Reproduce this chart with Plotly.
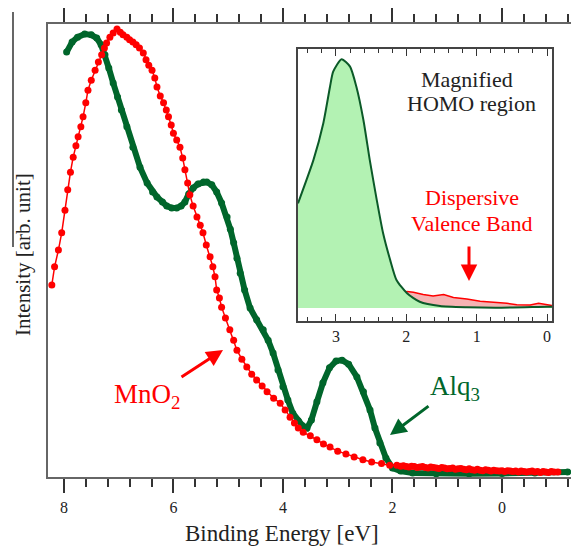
import plotly.graph_objects as go

# ---------------- data ----------------
alq3_E = [7.95, 7.85, 7.75, 7.62, 7.50, 7.40, 7.32, 7.25, 7.18, 7.10, 7.02, 6.95, 6.85, 6.74,
          6.61, 6.48, 6.38, 6.30, 6.20, 6.12, 6.03, 5.94, 5.86, 5.79, 5.72, 5.64, 5.55, 5.45,
          5.39, 5.30, 5.21, 5.12, 5.02, 4.96, 4.90, 4.84, 4.78, 4.70, 4.60, 4.48, 4.36, 4.27,
          4.18, 4.09, 4.00, 3.91, 3.82, 3.72, 3.64, 3.56, 3.48, 3.38, 3.27, 3.15, 3.03, 2.92,
          2.80, 2.65, 2.53, 2.41, 2.32, 2.23, 2.12, 2.00, 1.85, 1.63, 1.20, 0.60, 0.00, -0.60,
          -1.20]
alq3_I = [93.8, 96.0, 97.1, 97.8, 97.6, 96.9, 95.4, 93.2, 90.3, 87.0, 83.9, 81.0, 77.3, 72.8,
          68.4, 64.9, 62.9, 61.8, 60.7, 59.8, 59.4, 59.4, 59.8, 60.7, 62.5, 63.8, 64.7, 65.1,
          65.1, 64.5, 62.9, 60.5, 57.4, 54.7, 51.7, 48.3, 45.0, 41.3, 37.3, 34.7, 32.5, 30.2,
          27.4, 23.6, 19.9, 17.0, 14.1, 12.4, 11.3, 10.8, 12.6, 16.6, 20.8, 24.1, 25.6, 25.8,
          24.9, 22.1, 18.8, 14.8, 10.8, 7.5, 4.2, 2.0, 1.3, 0.9, 0.7, 0.7, 0.8, 0.9,
          1.1]

mno2_E = [8.22, 8.17, 8.10, 8.04, 7.98, 7.93, 7.88, 7.83, 7.78, 7.74, 7.69, 7.65, 7.60, 7.56,
          7.50, 7.43, 7.37, 7.31, 7.26, 7.22, 7.16, 7.10, 7.03, 6.97, 6.92, 6.85, 6.80, 6.74,
          6.68, 6.62, 6.55, 6.50, 6.45, 6.39, 6.34, 6.30, 6.24, 6.18, 6.13, 6.09, 6.04, 6.00,
          5.94, 5.88, 5.83, 5.79, 5.74, 5.70, 5.64, 5.57, 5.51, 5.46, 5.40, 5.33, 5.28, 5.24,
          5.21, 5.16, 5.12, 5.05, 4.97, 4.90, 4.84, 4.75, 4.66, 4.57, 4.48, 4.38, 4.29, 4.17,
          4.05, 3.96, 3.87, 3.79, 3.72, 3.63, 3.50, 3.38, 3.26, 3.14, 3.00, 2.85, 2.70, 2.54,
          2.38, 2.20, 2.05, 1.92, 1.85, 1.80, 1.75, 1.70, 1.65, 1.60, 1.55, 1.50, 1.45, 1.40,
          1.35, 1.30, 1.25, 1.20, 1.15, 1.10, 1.05, 1.00, 0.95, 0.90, 0.85, 0.80, 0.75, 0.70,
          0.65, 0.60, 0.55, 0.50, 0.45, 0.40, 0.35, 0.30, 0.25, 0.20, 0.15, 0.10, 0.05, 0.00,
          -0.05, -0.10, -0.15, -0.20, -0.25, -0.30, -0.35, -0.40, -0.45, -0.50, -0.55, -0.60,
          -0.65, -0.70, -0.75, -0.80, -0.85, -0.90, -0.95, -1.02]
mno2_I = [42.4, 46.4, 50.1, 53.9, 58.9, 63.4, 67.3, 70.6, 73.1, 75.1, 77.3, 79.5, 82.6, 85.4,
          87.6, 89.8, 91.6, 93.2, 94.7, 95.8, 97.1, 98.0, 98.9, 98.2, 97.6, 97.1, 96.5, 96.0,
          95.4, 94.7, 93.6, 92.1, 90.9, 89.8, 88.1, 86.1, 84.1, 82.6, 81.0, 79.5, 77.7, 75.9,
          74.4, 72.8, 70.4, 67.8, 64.9, 62.3, 59.8, 57.4, 55.6, 53.9, 51.2, 48.6, 46.4, 44.2,
          41.3, 39.5, 37.5, 35.1, 32.5, 30.2, 28.0, 26.0, 24.3, 22.7, 21.4, 20.1, 18.8, 17.4,
          16.3, 14.8, 13.2, 11.9, 10.8, 9.9, 9.1, 8.2, 7.3, 6.6, 5.7, 5.1, 4.4, 3.8,
          3.3, 3.0, 2.6, 2.6, 2.4, 2.5, 2.3, 2.2, 2.4, 2.3, 2.1, 2.2, 2.3, 2.1,
          2.0, 2.2, 2.1, 2.0, 1.9, 2.1, 2.0, 1.8, 1.9, 2.0, 1.7, 1.8, 1.9, 1.7,
          1.6, 1.8, 1.6, 1.5, 1.7, 1.5, 1.4, 1.6, 1.5, 1.3, 1.5, 1.4, 1.3, 1.4,
          1.2, 1.4, 1.3, 1.2, 1.3, 1.1, 1.3, 1.2, 1.1, 1.2, 1.3, 1.1,
          1.2, 1.0, 1.2, 1.1, 1.0, 1.2, 1.1, 1.1]

# inset (magnified HOMO region)
homo_E = [3.54, 3.32, 3.18, 3.085, 3.04, 2.92, 2.80, 2.71, 2.61, 2.52, 2.42, 2.33, 2.23, 2.14,
          1.99, 1.81, 1.52, 1.14, 0.72, 0.00, -0.07]
homo_I = [42.2, 59.7, 74.5, 89.2, 95.3, 100.3, 97.3, 89.2, 75.8, 59.7, 43.5, 30.1, 19.4, 11.3,
          5.9, 2.5, 0.8, 0.3, 0.1, 0.5, 0.5]

vb_E = [3.54, 3.30, 3.00, 2.70, 2.40, 2.10, 1.99, 1.90, 1.76, 1.62, 1.47, 1.33, 1.14, 0.95,
        0.76, 0.57, 0.43, 0.24, 0.12, 0.00, -0.07]
vb_I = [31.5, 25.0, 19.0, 14.0, 10.0, 7.2, 6.6, 6.3, 5.4, 4.8, 5.4, 4.2, 3.6, 2.7,
        2.3, 1.9, 1.3, 1.2, 1.9, 1.2, 1.0]

main_ticks = [8, 6, 4, 2, 0]
inset_ticks = [3, 2, 1, 0]

RED = "#ff0000"
GREEN = "#00662b"
FONT = "Times New Roman, Times, Liberation Serif, DejaVu Serif, serif"

fig = go.Figure()

fig.add_trace(go.Scatter(x=alq3_E, y=alq3_I, mode="lines+markers",
                         line=dict(color=GREEN, width=6),
                         marker=dict(color=GREEN, size=7), showlegend=False))
fig.add_trace(go.Scatter(x=mno2_E, y=mno2_I, mode="lines+markers",
                         line=dict(color=RED, width=1.5),
                         marker=dict(color=RED, size=7), showlegend=False))

# inset
fig.add_trace(go.Scatter(x=vb_E, y=vb_I, xaxis="x2", yaxis="y2", mode="lines",
                         line=dict(color=RED, width=1.5), fill="tozeroy",
                         fillcolor="#f5b3b3", showlegend=False))
fig.add_trace(go.Scatter(x=homo_E, y=homo_I, xaxis="x2", yaxis="y2", mode="lines",
                         line=dict(color="#0b5a28", width=2, shape="spline", smoothing=0.6),
                         fill="tozeroy", fillcolor="#b3f2b3", showlegend=False))

axis_line = "#666666"
fig.update_layout(
    width=571, height=547,
    margin=dict(l=48, r=0, t=24, b=70),
    paper_bgcolor="white", plot_bgcolor="white",
    font=dict(family=FONT, color="#222222"),
    xaxis=dict(range=[8.29, -1.26], tickvals=main_ticks, ticktext=[str(t) for t in main_ticks],
               ticks="outside", ticklen=14, tickwidth=1.5, tickcolor="#333333",
               showline=True, linecolor=axis_line, linewidth=1.5, mirror="ticks",
               showgrid=False, zeroline=False, tickfont=dict(size=16, family=FONT),
               ticklabelstandoff=1,
               minor=dict(dtick=0.4, tick0=0, ticks="outside", ticklen=8, tickwidth=1.5,
                          tickcolor="#333333", showgrid=False)),
    yaxis=dict(range=[0, 100], showline=True, linecolor=axis_line, linewidth=1.5,
               ticks="", showticklabels=False, showgrid=False, zeroline=False),
    xaxis2=dict(domain=[0.478, 0.9637], anchor="y2", range=[3.54, -0.071],
                tickvals=inset_ticks, ticktext=[str(t) for t in inset_ticks],
                ticks="inside", ticklen=7, tickwidth=1.2, tickcolor="#333333",
                showline=True, linecolor="#444444", linewidth=1.5, mirror="ticks",
                showgrid=False, zeroline=False, tickfont=dict(size=16, family=FONT),
                minor=dict(dtick=0.2, tick0=0, ticks="inside", ticklen=4, tickwidth=1.2,
                           tickcolor="#333333", showgrid=False)),
    yaxis2=dict(domain=[0.3444, 0.9448], anchor="x2", range=[-5.24, 104.4],
                showline=True, linecolor="#444444", linewidth=1.5, mirror=True,
                ticks="", showticklabels=False, showgrid=False, zeroline=False),
)

def ann(text, x, y, size, color="#222222", **kw):
    fig.add_annotation(text=text, x=x, y=y, xref="paper", yref="paper", showarrow=False,
                       font=dict(family=FONT, size=size, color=color), **kw)

def px_x(p):
    return (p - 48) / 523.0

def px_y(p):
    return (477 - p) / 453.0

ann("Binding Energy [eV]", px_x(281.5), px_y(533), 23, xanchor="center", yanchor="middle")
ann("Intensity [arb. unit]", px_x(23), px_y(255), 21, xanchor="center", yanchor="middle",
    textangle=-90)
ann("Magnified", px_x(467), px_y(80), 22, xanchor="center", yanchor="middle")
ann("HOMO region", px_x(471), px_y(103), 22, xanchor="center", yanchor="middle")
ann("Dispersive", px_x(472), px_y(198), 22, color=RED, xanchor="center", yanchor="middle")
ann("Valence Band", px_x(472), px_y(223), 22, color=RED, xanchor="center", yanchor="middle")
ann("MnO<sub>2</sub>", px_x(112), px_y(396), 27, color=RED, xanchor="left", yanchor="middle")
ann("Alq<sub>3</sub>", px_x(428), px_y(388), 27, color=GREEN, xanchor="left", yanchor="middle")

# arrows (tip position in paper coords, tail offset in pixels)
def arrow(tipx, tipy, tailx, taily, color):
    fig.add_annotation(x=px_x(tipx), y=px_y(tipy), xref="paper", yref="paper", text="",
                       showarrow=True, ax=tailx - tipx, ay=taily - tipy,
                       arrowhead=2, arrowsize=1.1, arrowwidth=3, arrowcolor=color)

arrow(223, 350, 180, 378, RED)
arrow(390, 435, 430, 405, GREEN)
arrow(469, 281, 469, 245, RED)

# stray vertical rule at far left of the original figure
fig.add_shape(type="line", xref="paper", yref="paper", x0=px_x(13), x1=px_x(13),
              y0=px_y(12), y1=px_y(247), line=dict(color="black", width=1.2))

fig.write_html("out.html")
